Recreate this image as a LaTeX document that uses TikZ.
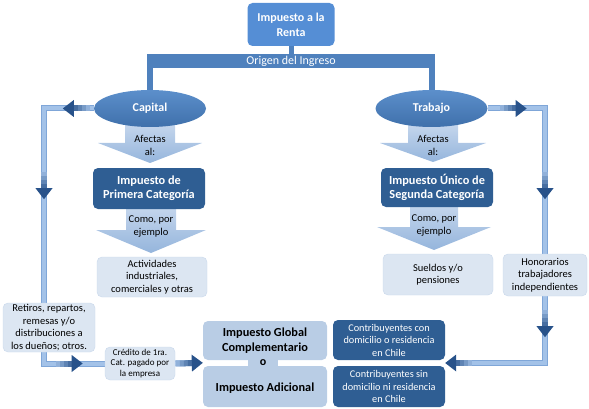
\documentclass[tikz,border=0pt]{standalone}
\usepackage{fontspec}
\setmainfont{Carlito}
\usetikzlibrary{decorations.markings,shapes.geometric,calc,backgrounds}
\definecolor{topblue}{HTML}{558ED5}
\definecolor{barblue}{HTML}{4F81BD}
\definecolor{ellblue}{HTML}{4A7EBB}
\definecolor{ellblueT}{HTML}{5C8FCB}
\definecolor{ellblueB}{HTML}{3F70AB}
\definecolor{darkbox}{HTML}{2F5E93}
\definecolor{lightbox}{HTML}{DCE6F2}
\definecolor{lightedge}{HTML}{C9D8EB}
\definecolor{midbox}{HTML}{B9CDE5}
\definecolor{arrfill}{HTML}{A3C2E8}
\definecolor{arredge}{HTML}{7FA6D8}
\definecolor{headcol}{HTML}{28528A}
\definecolor{blockA}{HTML}{C3D5EC}
\definecolor{blockB}{HTML}{95B5DC}
\newcommand\tailgrad[1]{%
  \fill[headcol!15!arrfill] ({#1-16pt},-3pt) rectangle ({#1-12pt},3pt);
  \fill[headcol!35!arrfill] ({#1-12pt},-3pt) rectangle ({#1-8pt},3pt);
  \fill[headcol!55!arrfill] ({#1-8pt},-3pt) rectangle ({#1-4pt},3pt);
  \fill[headcol!75!arrfill] ({#1-4pt},-3pt) rectangle ({#1+0.3pt},3pt);}
\newcommand\headtri{%
  \tailgrad{-11pt}
  \fill[headcol] (0pt,0pt) -- (-11pt,8.5pt) -- (-11pt,-8.5pt) -- cycle;}
\newcommand\headtriend{%
  \tailgrad{-4pt}
  \fill[headcol] (7pt,0pt) -- (-4pt,8.5pt) -- (-4pt,-8.5pt) -- cycle;}
\newcommand\blockarr[6]{%
  \shade[top color=blockA, bottom color=blockB]
    ({#1-#5},#2) -- ({#1+#5},#2) -- ({#1+#5},#3) -- ({#1+#6},#3) -- (#1,#4)
    -- ({#1-#6},#3) -- ({#1-#5},#3) -- cycle;}
\tikzset{
  box/.style={rounded corners=5pt, inner sep=1pt, align=center},
  topbox/.style={box, fill=topblue, text=white, font=\fontsize{12}{15}\selectfont\bfseries},
  barnode/.style={fill=barblue, text=white, inner sep=0pt,
    font=\fontsize{12}{12}\selectfont},
  ell/.style={ellipse, top color=ellblueT, bottom color=ellblueB, text=white, inner sep=0pt,
    minimum width=112pt, minimum height=37pt, font=\fontsize{12}{13}\selectfont\bfseries},
  darkb/.style={box, fill=darkbox, text=white, font=\fontsize{12.3}{14}\selectfont\bfseries},
  lightb/.style={box, fill=lightbox, draw=lightedge, text=black, font=\fontsize{10.5}{12.5}\selectfont},
  smallb/.style={lightb, font=\fontsize{9}{10.5}\selectfont},
  midb/.style={box, fill=midbox, text=black, font=\fontsize{12.3}{15}\selectfont\bfseries},
  contrib/.style={box, fill=darkbox, text=white, font=\fontsize{10.3}{12.5}\selectfont},
  arrtext/.style={inner sep=0pt, align=center, text=black, font=\fontsize{10.5}{13}\selectfont},
  barline/.style={draw=barblue, line width=#1},
  conn/.style={draw=arredge, double=arrfill, double distance=4pt, line width=1pt},
}
\begin{document}
\begin{tikzpicture}[x=1pt,y=-1pt]
\useasboundingbox (0,0) rectangle (589,409);
% top
\node[topbox, minimum width=87pt, minimum height=43pt] (renta) at (291,24.5) {Impuesto a la\\Renta};
\node[barnode, minimum width=288pt, minimum height=14pt] (origen) at (291,61) {Origen del Ingreso};
\node[ell] (capital) at (150,108.5) {Capital};
\node[ell] (trabajo) at (431.5,108.5) {Trabajo};
% left column
\node[arrtext] (afc) at (150,145.5) {Afectas\\al:};
\node[darkb, minimum width=112pt, minimum height=41pt] (primera) at (149,188.5) {Impuesto de\\Primera Categoría};
\node[arrtext] (comoc) at (151,226.5) {Como, por\\ejemplo};
\node[lightb, minimum width=110pt, minimum height=40pt] (activ) at (152,277) {Actividades\\industriales,\\comerciales y otras};
% right column
\node[arrtext] (aft) at (433,145.5) {Afectas\\al:};
\node[darkb, minimum width=112pt, minimum height=39pt] (segunda) at (437,187.5) {Impuesto Único de\\Segunda Categoría};
\node[arrtext] (comot) at (434,225) {Como, por\\ejemplo};
\node[lightb, minimum width=110pt, minimum height=41pt] (sueldos) at (438,274.5) {Sueldos y/o\\pensiones};
\node[lightb, minimum width=84pt, minimum height=42pt] (honor) at (545,275) {Honorarios\\trabajadores\\independientes};
% bottom
\node[lightb, minimum width=92pt, minimum height=49pt] (retiros) at (49,327.5) {Retiros, repartos,\\remesas y/o\\distribuciones a\\los dueños; otros.};
\node[smallb, minimum width=70pt, minimum height=33pt] (credito) at (140,363.5) {Crédito de 1ra.\\Cat. pagado por\\la empresa};
\node[midb, minimum width=124pt, minimum height=39pt] (igc) at (265,340.5) {Impuesto Global\\Complementario};
\node[midb, minimum width=124pt, minimum height=41pt] (adic) at (265,386.5) {\\[-4pt]Impuesto Adicional};
\node[fill=midbox, inner sep=0pt, minimum width=30pt, minimum height=8pt,
      font=\fontsize{12}{12}\selectfont\bfseries] (o) at (263,363) {o};
\node[contrib, minimum width=112pt, minimum height=40pt] (ccon) at (389,340) {Contribuyentes con\\domicilio o residencia\\en Chile};
\node[contrib, minimum width=112pt, minimum height=41pt] (csin) at (389,386.5) {Contribuyentes sin\\domicilio ni residencia\\en Chile};
\coordinate (lx) at (44,0);
\coordinate (igcgap) at ($(igc.south west)!0.5!(adic.north west)$);
\coordinate (cgap) at ($(ccon.south east)!0.5!(csin.north east)$);
\begin{scope}[on background layer]
  % bracket
  \draw[barline=5pt] (renta.south) -- (origen.north);
  \draw[barline=6pt] ([xshift=3pt]origen.south west) -- ([xshift=3pt]origen.south west |- capital.north);
  \draw[barline=6pt] ([xshift=-3.5pt]origen.south east) -- ([xshift=-3.5pt]origen.south east |- trabajo.north);
  % block arrows
  \blockarr{150}{125}{143}{163}{25}{52}
  \blockarr{151}{208}{230}{253}{25}{55}
  \blockarr{433}{125}{143}{162}{25}{53}
  \blockarr{434}{206}{227}{250}{24}{57}
  % connectors
  \draw[conn, line join=miter, postaction={decorate, decoration={markings,
      mark=at position 31pt with {\headtri},
      mark=at position 140.5pt with {\headtri},
      mark=at position 343.5pt with {\headtri}}}]
    (capital.west) -- (capital.west -| lx) -- (lx |- credito.west) -- (credito.west);
  \draw[conn, postaction={decorate, decoration={markings,
      mark=at position 1 with {\headtriend}}}]
    (credito.east) -- ([xshift=-7pt]igcgap);
  \draw[conn, line join=miter, postaction={decorate, decoration={markings,
      mark=at position 39pt with {\headtri},
      mark=at position 148pt with {\headtri}}}]
    (trabajo.east) -- (trabajo.east -| honor.north) -- (honor.north);
  \draw[conn, line join=miter, postaction={decorate, decoration={markings,
      mark=at position 41pt with {\headtri},
      mark=at position 1 with {\headtriend}}}]
    (honor.south) -- (honor.south |- cgap) -- ([xshift=7pt]cgap);
\end{scope}
\end{tikzpicture}
\end{document}
